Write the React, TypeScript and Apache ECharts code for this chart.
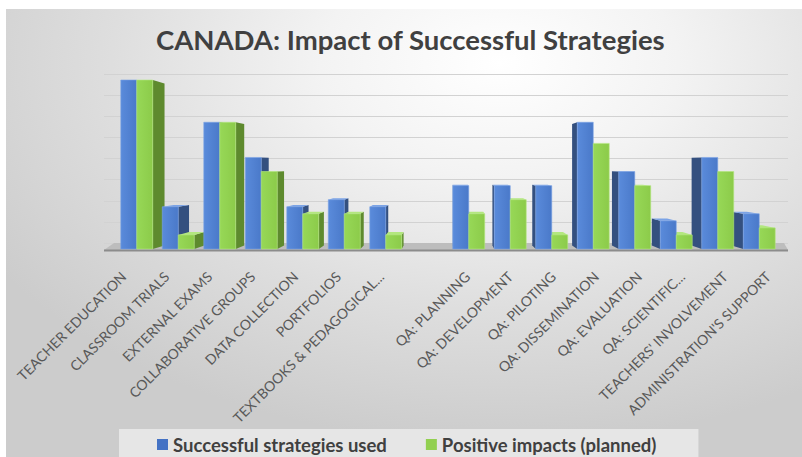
import React, { useEffect, useRef } from "react";
import * as echarts from "echarts";

const title = "CANADA: Impact of Successful Strategies";
const categories = [
  "TEACHER EDUCATION",
  "CLASSROOM TRIALS",
  "EXTERNAL EXAMS",
  "COLLABORATIVE GROUPS",
  "DATA COLLECTION",
  "PORTFOLIOS",
  "TEXTBOOKS & PEDAGOGICAL...",
  "",
  "QA: PLANNING",
  "QA: DEVELOPMENT",
  "QA: PILOTING",
  "QA: DISSEMINATION",
  "QA: EVALUATION",
  "QA: SCIENTIFIC...",
  "TEACHERS' INVOLVEMENT",
  "ADMINISTRATION'S SUPPORT",
];
const seriesNames = ["Successful strategies used", "Positive impacts (planned)"];
const usedValues = [24, 6, 18, 13, 6, 7, 6, null, 9, 9, 9, 18, 11, 4, 13, 5];
const impactValues = [24, 2, 18, 11, 5, 5, 2, null, 5, 7, 2, 15, 9, 2, 11, 3];
const yMax = 24;
const yInterval = 3;

const palette = [
  { front: ["#5A8BDB", "#4A79C9"], side: "#34507F", top: "#7BA3E6", legend: "#4472C4" },
  { front: ["#97D857", "#8CCB4A"], side: "#5E8A2E", top: "#B3E77F", legend: "#92D050" },
];

export default function App() {
  const ref = useRef<HTMLDivElement>(null);
  useEffect(() => {
    if (!ref.current) return;
    const chart = echarts.init(ref.current, null, { renderer: "svg" });
    const data = categories
      .map((_, i) => [i, usedValues[i], impactValues[i]])
      .filter((r) => r[1] != null);

    const renderItem = (params: any, api: any) => {
      const cs = params.coordSys;
      const i = api.value(0);
      const band = api.size([1, 0])[0];
      const bw = band * 0.385;
      const c0 = api.coord([i, 0]);
      const cx = c0[0];
      const base = c0[1];
      const vx = cs.x + cs.width * 0.5;
      const vy = cs.y + cs.height * 0.5;
      const k = 0.04;
      const proj = (x: number, y: number) => [x + (vx - x) * k, y + (vy - y) * k];
      const children: any[] = [];
      if (params.dataIndex === 0) {
        const l = cs.x - 12;
        const r = cs.x + cs.width + 8;
        children.push({
          type: "polygon",
          z2: 0,
          shape: { points: [[l, base + 1], [r, base + 1], [r - 4, base - 6], [l + 10, base - 6]] },
          style: { fill: "#BDBDBD" },
        });
        children.push({
          type: "line",
          z2: 0,
          shape: { x1: l, y1: base + 1.5, x2: r, y2: base + 1.5 },
          style: { stroke: "#8C8C8C", lineWidth: 2 },
        });
      }
      for (let s = 0; s < 2; s++) {
        const v = api.value(1 + s);
        if (v == null || isNaN(v)) continue;
        const top = api.coord([i, v])[1];
        const x0 = cx - bw + s * bw;
        const x1 = x0 + bw;
        const col = palette[s];
        const sx = x1 < vx ? x1 : x0 > vx ? x0 : null;
        if (sx != null) {
          const pt = proj(sx, top);
          const pb = proj(sx, base);
          children.push({
            type: "polygon",
            z2: 1,
            shape: { points: [[sx, top], pt, pb, [sx, base]] },
            style: { fill: col.side },
          });
        }
        if (top > vy) {
          const a = proj(x0, top);
          const b = proj(x1, top);
          children.push({
            type: "polygon",
            z2: 2,
            shape: { points: [[x0, top], [x1, top], b, a] },
            style: { fill: col.top },
          });
        }
        children.push({
          type: "rect",
          z2: 3,
          shape: { x: x0, y: top, width: bw, height: base - top },
          style: {
            fill: new echarts.graphic.LinearGradient(0, 0, 1, 0, [
              { offset: 0, color: col.front[0] },
              { offset: 1, color: col.front[1] },
            ]),
            stroke: col.top,
            lineWidth: 0.6,
          },
        });
      }
      return { type: "group", children };
    };

    const hiddenX = (gridIndex: number) => ({
      type: "category",
      gridIndex,
      data: categories,
      show: false,
    });
    const hiddenY = (gridIndex: number, showSplit = false) => ({
      type: "value",
      gridIndex,
      min: 0,
      max: yMax,
      interval: yInterval,
      axisLine: { show: false },
      axisTick: { show: false },
      axisLabel: { show: false },
      splitLine: { show: showSplit, lineStyle: { color: "#D2D2D2", width: 1 } },
    });

    chart.setOption({
      animation: false,
      backgroundColor: "transparent",
      title: {
        text: title,
        left: 145,
        top: 11,
        textStyle: {
          fontFamily: "Lato",
          fontSize: 27.5,
          fontWeight: "bold",
          color: "#404040",
        },
      },
      legend: {
        data: seriesNames,
        left: 113,
        top: 420,
        icon: "rect",
        itemWidth: 11,
        itemHeight: 11,
        itemGap: 39,
        padding: [6, 42, 8, 38],
        backgroundColor: "#E6E6E6",
        textStyle: {
          fontFamily: "Lato",
          fontSize: 18.5,
          fontWeight: "bold",
          color: "#404040",
        },
      },
      grid: [
        { left: 98, right: 14, top: 65, bottom: 214 },
        { left: 110, right: 22, top: 71, bottom: 208 },
        { left: 96, right: 12.5, top: 71, bottom: 208 },
      ],
      xAxis: [
        hiddenX(0),
        hiddenX(1),
        {
          type: "category",
          gridIndex: 2,
          data: categories,
          axisLine: { show: false },
          axisTick: { show: false },
          axisLabel: {
            interval: 0,
            rotate: 45,
            margin: 25,
            fontFamily: "Lato",
            fontSize: 14,
            color: "#595959",
          },
        },
      ],
      yAxis: [hiddenY(0, true), hiddenY(1), hiddenY(2)],
      series: [
        {
          type: "custom",
          name: "bars3d",
          xAxisIndex: 1,
          yAxisIndex: 1,
          renderItem,
          encode: { x: 0, y: [1, 2] },
          data,
        },
        {
          type: "bar",
          name: seriesNames[0],
          xAxisIndex: 2,
          yAxisIndex: 2,
          data: [],
          itemStyle: { color: palette[0].legend },
        },
        {
          type: "bar",
          name: seriesNames[1],
          xAxisIndex: 2,
          yAxisIndex: 2,
          data: [],
          itemStyle: { color: palette[1].legend },
        },
      ],
    });
    return () => chart.dispose();
  }, []);

  return (
    <div style={{ position: "fixed", left: 0, top: 0, width: 802, height: 457, background: "#ffffff" }}>
      <div
        ref={ref}
        style={{
          position: "absolute",
          left: 6,
          top: 9,
          width: 796,
          height: 448,
          background:
            "radial-gradient(ellipse 75% 85% at 62% 12%, #ffffff 0%, #f3f3f3 30%, #dedede 65%, #cccccc 100%)",
        }}
      />
    </div>
  );
}
